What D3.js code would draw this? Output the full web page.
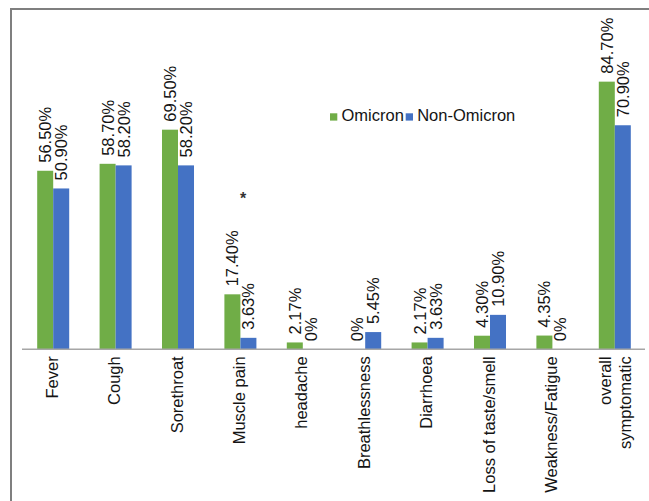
<!DOCTYPE html>
<html>
<head>
<meta charset="utf-8">
<script src="https://cdn.jsdelivr.net/npm/d3@7"></script>
<style>
  html, body { margin: 0; padding: 0; background: #fff; }
  svg { display: block; font-family: "Liberation Sans", Arial, sans-serif; }
</style>
</head>
<body>
<svg id="chart" width="649" height="501"></svg>
<script>
// Symptom categories (a "\n" splits a label over two lines)
const categories = ["Fever", "Cough", "Sorethroat", "Muscle pain", "headache",
  "Breathlessness", "Diarrhoea", "Loss of taste/smell", "Weakness/Fatigue",
  "overall\nsymptomatic"];
const seriesNames = ["Omicron", "Non-Omicron"];
const omicron    = [56.5, 58.7, 69.5, 17.4, 2.17, 0,    2.17, 4.3,  4.35, 84.7];
const nonOmicron = [50.9, 58.2, 58.2, 3.63, 0,    5.45, 3.63, 10.9, 0,    70.9];
const significant = ["Muscle pain"];   // marked with an asterisk
const colors = ["#70AD47", "#4472C4"];

const svg = d3.select("#chart");
const baseY = 349.3;
const fs = 16.5;
const ink = "#141414";

const x = d3.scaleBand().domain(categories).range([22, 646])
  .paddingInner(0.487).paddingOuter(0.2435);
const xs = d3.scaleBand().domain(seriesNames).range([0, x.bandwidth()]);
const y = d3.scaleLinear().domain([0, 100]).range([baseY, baseY - 316]);

// outer frame
svg.append("path")
  .attr("d", "M11,501 V9 H649")
  .attr("fill", "none").attr("stroke", "#7f7f7f").attr("stroke-width", 2);

const rows = categories.map((c, i) => ({ cat: c, vals: [omicron[i], nonOmicron[i]] }));
const fmt = v => v === 0 ? "0%" : v.toFixed(2) + "%";

const groups = svg.append("g").selectAll("g").data(rows).join("g")
  .attr("transform", d => `translate(${x(d.cat)},0)`);

groups.selectAll("rect")
  .data(d => d.vals.map((v, j) => ({ v, s: seriesNames[j], j })))
  .join("rect")
  .attr("x", d => xs(d.s))
  .attr("width", xs.bandwidth())
  .attr("y", d => y(d.v))
  .attr("height", d => baseY - y(d.v))
  .attr("fill", d => colors[d.j]);

// value labels, rotated above each bar
groups.selectAll("text.val")
  .data(d => d.vals.map((v, j) => ({ v, s: seriesNames[j] })))
  .join("text")
  .attr("class", "val")
  .attr("transform", d => `translate(${xs(d.s) + xs.bandwidth() / 2},${y(d.v) - 8}) rotate(-90)`)
  .attr("dy", "0.36em")
  .attr("text-anchor", "start")
  .attr("font-size", fs)
  .attr("fill", ink)
  .text(d => fmt(d.v));

// category axis line
svg.append("line")
  .attr("x1", 22).attr("x2", 645)
  .attr("y1", baseY).attr("y2", baseY)
  .attr("stroke", "#a6a6a6").attr("stroke-width", 1.5);

// category labels
const catLabels = svg.append("g").selectAll("text").data(categories).join("text")
  .attr("transform", d => `translate(${x(d) + x.bandwidth() / 2},${baseY + 7}) rotate(-90)`)
  .attr("text-anchor", "end")
  .attr("font-size", fs)
  .attr("fill", ink);
catLabels.each(function (d) {
  const lines = d.split("\n");
  const lh = 19.5;
  const first = 4.5 - (lines.length - 1) * 8;
  d3.select(this).selectAll("tspan").data(lines).join("tspan")
    .attr("x", 0)
    .attr("y", (l, k) => first + k * lh)
    .text(l => l);
});

// significance marker
svg.append("g").selectAll("text").data(significant).join("text")
  .attr("x", d => x(d) + x.bandwidth() / 2 + 2.7)
  .attr("y", 204)
  .attr("text-anchor", "middle")
  .attr("font-size", 16)
  .attr("font-weight", "bold")
  .attr("fill", "#333")
  .text("*");

// legend
const legend = svg.append("g").attr("transform", "translate(330,0)");
const legX = [0, 75.7];
seriesNames.forEach((name, j) => {
  legend.append("rect")
    .attr("x", legX[j]).attr("y", 113.3)
    .attr("width", 7.3).attr("height", 7.3)
    .attr("fill", colors[j]);
  legend.append("text")
    .attr("x", legX[j] + 11.5).attr("y", 120.7)
    .attr("font-size", fs).attr("fill", ink)
    .text(name);
});
</script>
</body>
</html>
